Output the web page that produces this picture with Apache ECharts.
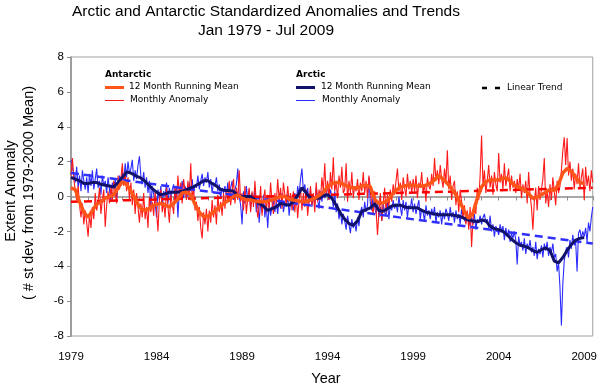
<!DOCTYPE html>
<html><head><meta charset="utf-8">
<script src="https://cdn.jsdelivr.net/npm/echarts@6/dist/echarts.min.js"></script>
<style>html,body{margin:0;padding:0;background:#fff}#c{width:600px;height:387px}</style>
</head><body><div id="c"></div>
<script>
const startYear = 1979;
const endYear = 2009.5;
const xLabelYears = [1979, 1984, 1989, 1994, 1999, 2004, 2009];

// Monthly anomalies, Jan 1979 - Jul 2009
const antarcticMonthly = [
 1.2, 2.2, 1.0, 0.3, -0.2, 0.6, -0.5, -1.2, -0.4, -1.6, -0.8, -1.5,
 -2.3, -1.0, -1.8, -0.6, -1.3, 0.2, -0.8, -0.3, 0.5, -1.0, -0.2, 0.4,
 -1.75, -0.5, 0.3, -0.4, 0.6, -0.2, 0.9, 0.2, -0.4, 1.2, 0.4, 1.0,
 1.9, 0.6, 1.4, 0.3, 1.1, -0.2, 0.8, -0.5, 0.4, -1.0, 0.2, -0.6,
 -1.5, -0.4, -1.2, 0.2, -1.3, -0.6, -1.8, 0.0, -0.9, -0.3, -1.1, 0.3,
 -0.8, -2.0, -0.2, 0.4, -0.9, -0.3, -1.2, 0.5, -0.6, -1.5, 0.1, -0.4,
 -1.0, 0.6, -0.3, 1.2, 0.1, 0.8, -0.4, 1.0, 0.3, -0.2, 0.9, 0.0,
 1.9, -0.2, 0.5, -0.8, -0.3, -1.4, -0.6, -1.8, -2.4, -0.9, -1.6, -0.7,
 -2.0, -0.8, -1.5, -0.2, -1.2, -0.5, -1.6, 0.1, -0.9, -0.3, -1.1, 0.2,
 -0.7, 0.4, -0.3, 0.9, -0.5, 0.3, 1.0, -0.4, 0.5, -0.2, 1.5, -0.3,
 0.2, -0.8, 0.6, -1.0, -0.1, 0.5, -0.9, 0.3, -0.6, 0.9, -0.4, -1.2,
 -0.5, 0.6, -1.1, -0.2, 0.4, -0.9, 0.1, -0.7, 0.8, -0.3, -1.0, 0.2,
 -0.4, 1.0, -0.2, 0.5, -0.7, 0.8, 0.1, -0.5, 0.6, -0.3, 0.2, -0.8,
 0.3, -0.9, 0.1, -1.25, -0.2, 0.5, -0.8, 0.2, -0.6, 0.4, -1.1, -0.2,
 0.6, -0.5, 0.2, -0.9, 0.8, -0.3, 0.4, -0.2, 1.1, 0.3, 1.9, 0.1,
 0.9, -0.2, 1.4, 0.4, 2.25, 0.3, 0.8, -0.1, 1.2, 0.5, 1.7, 0.2,
 0.4, 1.9, -0.3, 0.9, 0.2, 1.4, -0.1, 0.6, 0.3, 1.0, -0.2, 0.8,
 0.3, 1.4, 0.2, 0.9, -0.1, 1.2, 0.5, -0.6, -1.0, 0.3, -0.8, -2.2,
 -0.9, 0.2, -1.4, -0.4, 0.5, -0.9, 0.1, -0.6, 0.4, -0.3, 0.7, 0.1,
 0.9, 1.6, 0.3, 0.8, -0.2, 1.1, 0.5, 0.0, 1.3, 0.4, 0.9, 0.2,
 1.0, 0.3, 1.2, -0.1, 0.8, 0.5, 1.4, 0.2, 0.7, -0.3, 1.1, 0.6,
 0.4, 1.3, 0.6, 2.2, 0.9, 1.5, 0.7, 1.8, 1.0, 0.5, 1.6, 0.8,
 2.65, 0.4, 1.2, -0.2, 0.6, 0.9, -0.5, 0.3, -0.9, 0.4, -0.3, -1.2,
 -0.5, -1.6, -0.8, -1.9, -0.6, -2.9, -1.3, -0.4, -1.0, 0.5, -0.2, 1.2,
 3.5, 0.6, 1.5, 0.2, 0.9, 1.8, 0.5, 1.2, 0.1, 1.4, 0.7, 0.3,
 2.5, 0.8, 1.3, 0.4, 1.9, 0.6, 1.1, 1.6, 0.3, 1.2, 0.5, 0.9,
 0.2, 1.0, 0.4, 1.3, -0.1, 0.7, 0.2, 0.9, -0.4, 1.4, 0.1, -0.6,
 -1.9, -0.3, 0.5, -0.8, 0.6, -0.2, 0.4, 1.0, 2.2, -0.4, 0.3, -0.6,
 0.7, -0.2, 1.1, 0.3, -0.5, 0.9, 0.2, 0.6, 1.5, 2.6, 3.4, 1.8,
 3.35, 1.2, 2.0, 0.9, 1.6, 0.4, 1.3, 0.7, 1.9, 0.5, 1.1, 1.6,
 -0.2, 1.7, 0.6, 1.2, 0.3, 1.5, 0.8
];
const arcticMonthly = [
 2.1, 1.6, 1.3, 0.8, 1.7, 0.5, 1.2, 0.3, 1.5, 0.9, 0.4, 1.1,
 0.2, 1.3, 0.6, 1.5, 0.4, 1.0, 1.6, 0.5, 0.9, 0.1, 1.2, 0.6,
 0.9, 0.2, 1.1, 0.4, -0.3, 0.8, 0.5, 1.0, -0.2, 0.7, 1.2, 0.6,
 1.4, 0.8, 1.9, 1.1, 2.0, 1.3, 1.6, 2.1, 0.9, 1.5, 1.0, 1.8,
 2.3, 1.2, 0.7, 1.4, 0.5, 1.1, 0.2, 0.9, -0.6, 0.6, 0.1, -0.3,
 -1.2, 0.4, -0.2, 0.6, -0.5, 0.3, 0.0, 0.8, -0.4, 0.5, -0.1, 0.4,
 0.7, -0.3, 0.5, -1.2, 0.4, 0.2, 0.9, -0.1, 0.6, 0.3, 0.0, 0.8,
 0.3, 1.0, 0.2, 0.7, 0.5, 1.2, 0.4, 0.9, 1.3, 0.6, 1.1, 0.8,
 1.4, 0.5, 1.0, 0.2, 0.8, 0.6, 1.1, 0.3, 0.7, -0.1, 0.5, 0.2,
 0.6, 0.1, 0.8, -0.3, 0.5, 0.9, -0.2, 0.4, 0.7, 1.6, 0.0, -0.5,
 -1.6, 0.3, -0.4, 0.6, -0.2, 0.4, -0.7, 0.2, -0.3, 0.5, -0.9, -0.2,
 -1.5, -0.3, -0.9, 0.1, -1.2, -0.5, -1.8, -0.4, -1.1, -0.6, -0.2, -0.9,
 -0.3, -1.0, -0.1, -0.7, 0.2, -0.9, -0.4, -0.6, 0.1, -1.1, -0.3, -0.5,
 -0.8, 0.2, -0.5, 0.6, 0.1, 1.0, 1.6, 0.3, 0.7, 0.0, 0.5, -0.4,
 0.3, -0.6, 0.1, -0.4, 0.5, -0.2, -0.7, 0.3, -0.3, 0.4, -0.1, 0.2,
 0.6, -0.2, 0.4, 0.0, -0.6, 0.3, -0.9, -0.4, -1.3, -0.8, -1.6, -1.0,
 -1.4, -1.9, -1.1, -1.6, -2.1, -1.3, -1.8, -1.5, -2.0, -1.2, -1.7, -0.9,
 -0.6, -1.2, -0.3, -0.9, -0.5, 1.1, -0.4, -0.8, 0.2, -0.6, -1.0, -0.3,
 -1.2, -0.6, -1.4, -0.4, -0.9, -1.1, -0.3, -1.3, -0.5, -0.8, -0.2, -0.7,
 -0.4, -0.9, 0.0, -0.6, -1.1, -0.2, -0.8, -0.3, -1.2, -0.5, -0.7, -0.1,
 -0.9, -0.4, -1.0, -0.6, -0.2, -1.3, -0.7, -0.9, -1.4, -0.5, -1.1, -0.8,
 -1.3, -0.7, -1.1, -0.6, -1.5, -0.9, -1.2, -0.8, -1.6, -0.9, -1.3, -0.7,
 -1.0, -1.4, -0.6, -1.2, -0.9, -1.5, -0.8, -1.3, -1.0, -1.6, -0.7, -1.2,
 -1.1, -1.5, -0.9, -1.3, -1.7, -1.2, -1.6, -1.0, -1.9, -1.3, -1.5, -1.1,
 -1.6, -1.2, -1.0, -1.5, -1.3, -1.8, -1.1, -2.0, -1.6, -2.3, -1.7, -1.9,
 -2.2, -1.6, -2.0, -1.7, -2.5, -1.8, -2.3, -1.9, -2.6, -2.1, -2.4, -2.0,
 -2.5, -3.9, -2.3, -2.8, -2.6, -3.1, -2.4, -3.3, -2.7, -3.0, -2.5, -3.2,
 -2.9, -3.4, -2.6, -3.6, -3.0, -3.3, -2.8, -3.5, -2.7, -3.1, -2.6, -3.4,
 -2.9, -3.2, -2.7, -3.5, -3.3, -4.3, -3.8, -5.2, -7.4, -5.0, -3.7, -3.1,
 -2.9, -3.5, -2.5, -3.0, -2.2, -2.8, -2.6, -4.3, -2.1, -1.9, -2.4, -2.0,
 -2.3, -1.8, -2.6, -1.5, -2.0, -1.2, -0.6
];

// 12 month running means, read quarterly (1979.00, 1979.25, ... 2009.00)
const antarcticMean = [
 0.5, 0.4, -0.3, -0.9,   -1.2, -0.8, -0.45, -0.3,   -0.1, 0.0, 0.1, 0.5,
 0.85, 0.7, 0.3, -0.1,   -0.6, -0.8, -0.75, -0.55,  -0.45, -0.4, -0.5, -0.6,
 -0.4, -0.15, 0.2, 0.25, 0.1, -0.45, -0.9, -1.15,   -1.15, -0.95, -0.75, -0.55,
 -0.35, -0.2, 0.0, 0.1,  -0.1, -0.2, -0.2, -0.25,   -0.3, -0.3, -0.25, -0.2,
 -0.1, 0.0, 0.0, -0.15,  -0.2, -0.25, -0.3, -0.3,   -0.2, -0.1, 0.05, 0.25,
 0.55, 0.75, 0.8, 0.8,   0.65, 0.55, 0.5, 0.5,      0.6, 0.65, 0.55, -0.15,
 -0.4, -0.35, -0.25, 0.1, 0.35, 0.55, 0.6, 0.65,    0.65, 0.6, 0.6, 0.65,
 0.75, 0.95, 1.2, 1.0,   0.75, 0.45, 0.1, -0.35,    -0.85, -1.25, -0.95, -0.1,
 0.55, 0.85, 0.95, 0.95, 0.95, 1.05, 1.05, 0.8,     0.6, 0.5, 0.4, 0.15,
 -0.1, -0.05, 0.1, 0.25, 0.4, 0.35, 0.7, 1.35,      1.6, 1.45, 1.1, 0.8,
 0.75
];
const arcticMean = [
 1.1, 1.0, 0.9, 0.75,    0.75, 0.8, 0.8, 0.7,       0.65, 0.6, 0.55, 0.8,
 1.1, 1.4, 1.35, 1.2,    1.1, 0.95, 0.7, 0.45,      0.25, 0.1, 0.15, 0.25,
 0.25, 0.25, 0.3, 0.4,   0.5, 0.6, 0.75, 0.9,       0.9, 0.75, 0.6, 0.4,
 0.35, 0.35, 0.3, 0.05,  0.0, 0.0, 0.0, -0.2,       -0.4, -0.55, -0.8, -0.7,
 -0.6, -0.4, -0.45, -0.5, -0.3, 0.05, 0.5, 0.2,     -0.1, -0.1, -0.1, 0.05,
 0.1, -0.1, -0.5, -0.95, -1.3, -1.55, -1.65, -1.4,  -0.85, -0.75, -0.65, -0.4,
 -0.8, -0.85, -0.7, -0.55, -0.5, -0.5, -0.6, -0.65, -0.65, -0.65, -0.8, -0.9,
 -0.95, -1.0, -1.05, -1.05, -1.05, -1.05, -1.1, -1.15, -1.25, -1.35, -1.4, -1.45,
 -1.35, -1.4, -1.7, -1.85, -1.9, -2.0, -2.2, -2.45,  -2.65, -2.8, -2.85, -2.95,
 -3.1, -3.2, -3.05, -2.95, -3.1, -3.7, -3.8, -3.5,  -3.1, -2.75, -2.5, -2.4,
 -2.35
];

// Linear trend values at startYear and endYear
const antarcticTrend = [-0.3, 0.5];
const arcticTrend = [1.35, -2.7];

const monthly = arr => arr.map((v, i) => [startYear + i / 12, v]);
const quarterly = arr => arr.map((v, i) => [startYear + i / 4, v]);
const trend = arr => [[startYear, arr[0]], [endYear, arr[1]]];

const FONT = '"DejaVu Sans", Verdana, sans-serif';
const SANS = '"Liberation Sans", Arial, sans-serif';

const chart = echarts.init(document.getElementById('c'), null, {renderer: 'canvas'});
chart.setOption({
  animation: false,
  backgroundColor: '#fff',
  grid: {left: 71, right: 3, top: 57, bottom: 51, show: true, borderColor: '#a0a0a0', borderWidth: 1, containLabel: false},
  xAxis: [{
    type: 'value', min: startYear, max: endYear, interval: 5,
    axisLine: {show: false, onZero: false}, axisTick: {show: false}, splitLine: {show: false},
    axisLabel: {
      showMaxLabel: false, margin: 15, color: '#000', fontFamily: SANS, fontSize: 11.5,
      formatter: v => xLabelYears.indexOf(Math.round(v)) >= 0 && Math.abs(v - Math.round(v)) < 1e-6 ? String(Math.round(v)) : ''
    }
  }, {
    type: 'value', min: startYear, max: endYear, interval: 1, position: 'bottom',
    axisLine: {show: true, onZero: true, lineStyle: {color: '#8c8c8c', width: 1.5}},
    axisTick: {show: true, length: 4, lineStyle: {color: '#8c8c8c', width: 1}},
    axisLabel: {show: false}, splitLine: {show: false}
  }],
  yAxis: {
    type: 'value', min: -8, max: 8, interval: 2,
    axisLine: {show: true, onZero: false, lineStyle: {color: '#8c8c8c', width: 1.5}},
    axisTick: {show: true, length: 4, lineStyle: {color: '#8c8c8c'}},
    splitLine: {show: false},
    axisLabel: {color: '#000', fontFamily: SANS, fontSize: 11.5, margin: 7}
  },
  series: [
    {name: 'Arctic Monthly Anomaly', type: 'line', xAxisIndex: 0, data: monthly(arcticMonthly), showSymbol: false, symbol: 'none',
     lineStyle: {color: '#2b2bff', width: 1.1}, z: 2},
    {name: 'Antarctic Monthly Anomaly', type: 'line', xAxisIndex: 0, data: monthly(antarcticMonthly), showSymbol: false, symbol: 'none',
     lineStyle: {color: '#ff1a1a', width: 1.1}, z: 3},
    {name: 'Arctic Trend', type: 'line', xAxisIndex: 0, data: trend(arcticTrend), showSymbol: false, symbol: 'none',
     lineStyle: {color: '#2f2fff', width: 2.5, type: [8, 5]}, z: 4},
    {name: 'Antarctic Trend', type: 'line', xAxisIndex: 0, data: trend(antarcticTrend), showSymbol: false, symbol: 'none',
     lineStyle: {color: '#ff0000', width: 2.5, type: [8, 5]}, z: 5},
    {name: 'Arctic 12 Month Running Mean', type: 'line', xAxisIndex: 0, data: quarterly(arcticMean), showSymbol: false, symbol: 'none',
     lineStyle: {color: '#12126a', width: 3}, z: 6},
    {name: 'Antarctic 12 Month Running Mean', type: 'line', xAxisIndex: 0, data: quarterly(antarcticMean), showSymbol: false, symbol: 'none',
     lineStyle: {color: '#ff5519', width: 3.5}, z: 7}
  ],
  graphic: [
    {type: 'text', x: 266, y: 12, style: {text: 'Arctic and Antarctic Standardized Anomalies and Trends', font: '15.5px ' + SANS, fill: '#000', textAlign: 'center', textVerticalAlign: 'middle', verticalAlign: 'middle'}},
    {type: 'text', x: 266, y: 31, style: {text: 'Jan 1979 - Jul 2009', font: '15.5px ' + SANS, fill: '#000', textAlign: 'center', textVerticalAlign: 'middle', verticalAlign: 'middle'}},
    {type: 'text', x: 11, y: 191, rotation: Math.PI / 2, style: {text: 'Extent Anomaly', font: '14.5px ' + SANS, fill: '#000', textAlign: 'center', textVerticalAlign: 'middle', verticalAlign: 'middle'}},
    {type: 'text', x: 29, y: 193, rotation: Math.PI / 2, style: {text: '( # st dev. from 1979-2000 Mean)', font: '14.5px ' + SANS, fill: '#000', textAlign: 'center', textVerticalAlign: 'middle', verticalAlign: 'middle'}},
    {type: 'text', x: 326, y: 379, style: {text: 'Year', font: '14.5px ' + SANS, fill: '#000', textAlign: 'center', textVerticalAlign: 'middle', verticalAlign: 'middle'}},
    // legend
    {type: 'text', x: 105, y: 75, style: {text: 'Antarctic', font: 'bold 9px ' + FONT, fill: '#000', textVerticalAlign: 'middle', verticalAlign: 'middle'}},
    {type: 'line', shape: {x1: 105, y1: 87.5, x2: 124, y2: 87.5}, style: {stroke: '#ff5519', lineWidth: 3}},
    {type: 'text', x: 129, y: 87, style: {text: '12 Month Running Mean', font: '9px ' + FONT, fill: '#000', textVerticalAlign: 'middle', verticalAlign: 'middle'}},
    {type: 'line', shape: {x1: 105, y1: 100.5, x2: 124, y2: 100.5}, style: {stroke: '#ff1a1a', lineWidth: 1}},
    {type: 'text', x: 130, y: 100, style: {text: 'Monthly Anomaly', font: '9px ' + FONT, fill: '#000', textVerticalAlign: 'middle', verticalAlign: 'middle'}},
    {type: 'text', x: 296, y: 75, style: {text: 'Arctic', font: 'bold 9px ' + FONT, fill: '#000', textVerticalAlign: 'middle', verticalAlign: 'middle'}},
    {type: 'line', shape: {x1: 296, y1: 87.5, x2: 315, y2: 87.5}, style: {stroke: '#12126a', lineWidth: 3}},
    {type: 'text', x: 321, y: 87, style: {text: '12 Month Running Mean', font: '9px ' + FONT, fill: '#000', textVerticalAlign: 'middle', verticalAlign: 'middle'}},
    {type: 'line', shape: {x1: 296, y1: 100.5, x2: 315, y2: 100.5}, style: {stroke: '#2b2bff', lineWidth: 1}},
    {type: 'text', x: 322, y: 100, style: {text: 'Monthly Anomaly', font: '9px ' + FONT, fill: '#000', textVerticalAlign: 'middle', verticalAlign: 'middle'}},
    {type: 'line', shape: {x1: 482, y1: 88, x2: 500, y2: 88}, style: {stroke: '#000', lineWidth: 2.5, lineDash: [5, 8]}},
    {type: 'text', x: 507, y: 88, style: {text: 'Linear Trend', font: '9px ' + FONT, fill: '#000', textVerticalAlign: 'middle', verticalAlign: 'middle'}}
  ]
});
</script>
</body></html>
